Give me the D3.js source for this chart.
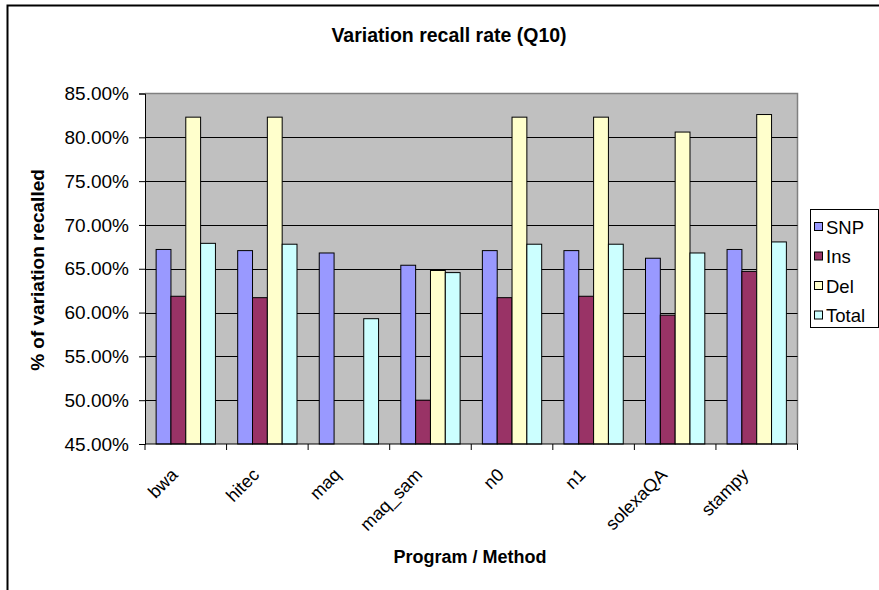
<!DOCTYPE html>
<html>
<head>
<meta charset="utf-8">
<script src="https://cdn.jsdelivr.net/npm/d3@7"></script>
<style>
  html, body { margin: 0; padding: 0; background: #fff; }
  svg { display: block; font-family: "Liberation Sans", Arial, sans-serif; }
</style>
</head>
<body>
<svg id="chart" width="879" height="590"></svg>
<script>
// Recall rates per program / method, as fractions
const categories = ["bwa", "hitec", "maq", "maq_sam", "n0", "n1", "solexaQA", "stampy"];
const seriesNames = ["SNP", "Ins", "Del", "Total"];
const snp   = [0.672, 0.6707, 0.668, 0.654, 0.6707, 0.6707, 0.662, 0.672];
const ins   = [0.6186, 0.617, null, 0.500, 0.617, 0.6186, 0.597, 0.647];
const del   = [0.823, 0.823, null, 0.648, 0.823, 0.823, 0.806, 0.826];
const total = [0.679, 0.678, 0.593, 0.6456, 0.678, 0.678, 0.668, 0.6806];
const yTicks = [0.45, 0.50, 0.55, 0.60, 0.65, 0.70, 0.75, 0.80, 0.85];
const colors = ["#9999FF", "#993366", "#FFFFCC", "#CCFFFF"];

const seriesValues = [snp, ins, del, total];

const svg = d3.select("#chart");
const plot = { left: 145, right: 797.5, top: 93.5, bottom: 444 };

// chart area border
svg.append("path")
  .attr("d", "M7.5,600 V5.5 H900")
  .attr("fill", "none").attr("stroke", "#000").attr("stroke-width", 2);

const x = d3.scaleBand().domain(categories).range([plot.left, plot.right]).padding(0);
const groupW = x.bandwidth() * 4 / 5.5;
const xs = d3.scaleBand().domain(seriesNames)
  .range([(x.bandwidth() - groupW) / 2, (x.bandwidth() + groupW) / 2]).padding(0);
const y = d3.scaleLinear().domain([0.45, 0.85]).range([plot.bottom, plot.top]);

// plot background
svg.append("rect")
  .attr("x", plot.left).attr("y", plot.top)
  .attr("width", plot.right - plot.left).attr("height", plot.bottom - plot.top)
  .attr("fill", "#C0C0C0");
svg.append("path")
  .attr("d", `M${plot.left},${plot.top} H${plot.right} V${plot.bottom}`)
  .attr("fill", "none").attr("stroke", "#808080").attr("stroke-width", 1.5);

// gridlines
svg.append("g").selectAll("line")
  .data(yTicks.slice(1, -1)).join("line")
  .attr("x1", plot.left).attr("x2", plot.right)
  .attr("y1", d => Math.round(y(d)) + 0.5).attr("y2", d => Math.round(y(d)) + 0.5)
  .attr("stroke", "#000").attr("stroke-width", 1);

// bars
const rows = [];
seriesNames.forEach((s, si) => {
  categories.forEach((c, ci) => {
    const v = seriesValues[si][ci];
    if (v != null) rows.push({ s, si, c, v });
  });
});
svg.append("g").selectAll("rect")
  .data(rows).join("rect")
  .attr("x", d => x(d.c) + xs(d.s))
  .attr("y", d => y(d.v))
  .attr("width", xs.bandwidth())
  .attr("height", d => y(0.45) - y(d.v))
  .attr("fill", d => colors[d.si])
  .attr("stroke", "#000").attr("stroke-width", 1);

// y axis
const yAxis = d3.axisLeft(y).tickValues(yTicks).tickSize(6).tickPadding(10)
  .tickFormat(d => (d * 100).toFixed(2) + "%");
const gy = svg.append("g").attr("transform", `translate(${plot.left},0)`).call(yAxis);
gy.select(".domain").attr("stroke", "#000");
gy.selectAll(".tick line").attr("stroke", "#000");
gy.selectAll("text").attr("font-size", 19).attr("fill", "#000")
  .attr("font-family", "'Liberation Sans', Arial, sans-serif");

// x axis: ticks at category boundaries
const xAxisG = svg.append("g");
xAxisG.append("line")
  .attr("x1", plot.left).attr("x2", plot.right)
  .attr("y1", plot.bottom).attr("y2", plot.bottom)
  .attr("stroke", "#000");
const bounds = categories.map(c => x(c)).concat([x(categories[categories.length - 1]) + x.bandwidth()]);
xAxisG.selectAll("line.tk").data(bounds).join("line").attr("class", "tk")
  .attr("x1", d => d).attr("x2", d => d)
  .attr("y1", plot.bottom).attr("y2", plot.bottom + 6)
  .attr("stroke", "#000");
xAxisG.selectAll("text").data(categories).join("text")
  .attr("transform", d => `translate(${x(d) + x.bandwidth() / 2 - 7},${plot.bottom + 32}) rotate(-45)`)
  .attr("text-anchor", "end")
  .attr("font-size", 18)
  .text(d => d);

// titles
svg.append("text")
  .attr("x", 449).attr("y", 42)
  .attr("text-anchor", "middle").attr("font-weight", "bold").attr("font-size", 19.5)
  .text("Variation recall rate (Q10)");
svg.append("text")
  .attr("transform", `translate(44,270) rotate(-90)`)
  .attr("text-anchor", "middle").attr("font-weight", "bold").attr("font-size", 19)
  .text("% of variation recalled");
svg.append("text")
  .attr("x", 470).attr("y", 563)
  .attr("text-anchor", "middle").attr("font-weight", "bold").attr("font-size", 18)
  .text("Program / Method");

// legend
const lg = svg.append("g");
lg.append("rect")
  .attr("x", 810.5).attr("y", 209.5).attr("width", 68).attr("height", 118)
  .attr("fill", "#fff").attr("stroke", "#000").attr("stroke-width", 1);
const items = lg.selectAll("g.item").data(seriesNames).join("g").attr("class", "item")
  .attr("transform", (d, i) => `translate(0,${227 + i * 29.5})`);
items.append("rect")
  .attr("x", 814.5).attr("y", -4.5).attr("width", 8).attr("height", 8)
  .attr("fill", (d, i) => colors[i]).attr("stroke", "#000");
items.append("text")
  .attr("x", 826).attr("dy", "0.36em").attr("font-size", 18.5)
  .text(d => d);
</script>
</body>
</html>
